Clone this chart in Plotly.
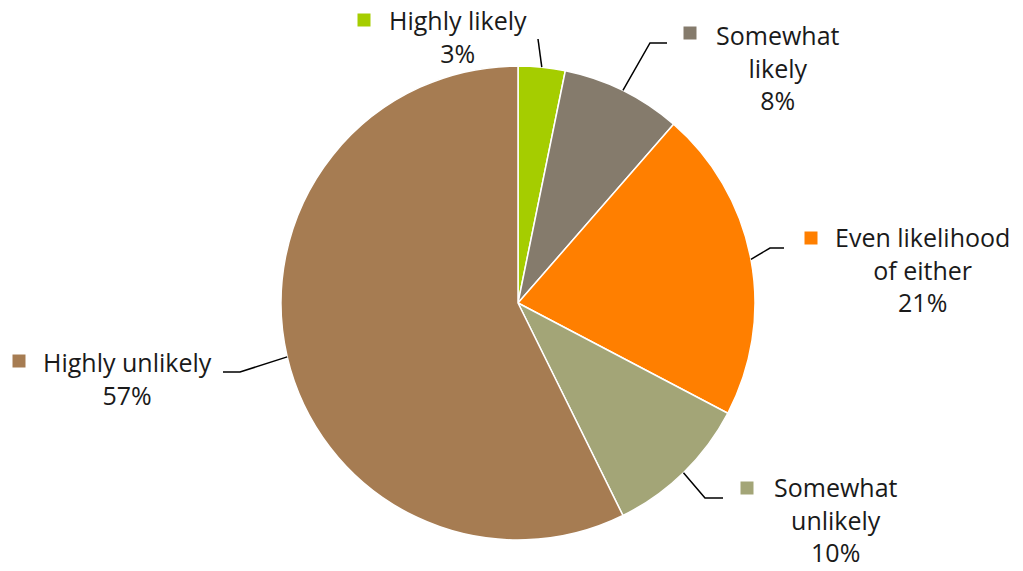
import math
import plotly.graph_objects as go

# Survey answers and their shares
categories = ["Highly likely", "Somewhat likely", "Even likelihood of either",
              "Somewhat unlikely", "Highly unlikely"]
values = [3.2, 8.2, 21.3, 10.0, 57.3]
colors = ["#A5CD00", "#857B6C", "#FF7F00", "#A3A577", "#A67C52"]

# Label text broken into display lines (percent line added from the values)
label_lines = [
    ["Highly likely"],
    ["Somewhat", "likely"],
    ["Even likelihood", "of either"],
    ["Somewhat", "unlikely"],
    ["Highly unlikely"],
]

W, H = 1023, 571
CX, CY, R = 518, 303, 237
FONT = "Open Sans"
FSIZE = 25

# Label placement (pixels): text block centre, key square centre, leader elbow/end
label_layout = [
    dict(tx=458, ty=36, sq=(364, 20), path=[(538, 39)]),
    dict(tx=778, ty=67, sq=(690, 33), path=[(650, 43), (667, 43)]),
    dict(tx=922, ty=270, sq=(811, 238), path=[(770, 248), (784, 248)]),
    dict(tx=836, ty=519, sq=(747, 488), path=[(705, 498), (723, 498)]),
    dict(tx=127, ty=378, sq=(19, 361), path=[(240, 372), (223, 372)]),
]


def px(x):
    return x / W


def py(y):
    return 1 - y / H


fig = go.Figure(go.Pie(
    labels=categories,
    values=values,
    sort=False,
    direction="clockwise",
    rotation=0,
    marker=dict(colors=colors, line=dict(color="white", width=1.5)),
    textinfo="none",
    hoverinfo="label+percent",
    domain=dict(x=[(CX - R) / W, (CX + R) / W], y=[(H - CY - R) / H, (H - CY + R) / H]),
    showlegend=False,
))

total = sum(values)
annotations = []
shapes = []
cum = 0.0
for cat, v, col, lines, lay in zip(categories, values, colors, label_lines, label_layout):
    mid = (cum + v / 2) / total * 2 * math.pi
    cum += v
    sx = CX + R * math.sin(mid)
    sy = CY - R * math.cos(mid)
    pts = [(sx, sy)] + lay["path"]
    d = "M " + " L ".join(f"{px(x)},{py(y)}" for x, y in pts)
    shapes.append(dict(type="path", path=d, xref="paper", yref="paper",
                       line=dict(color="black", width=1.5)))
    pct = round(v / total * 100)
    annotations.append(dict(
        text="<br>".join(lines + [f"{pct}%"]),
        x=px(lay["tx"]), y=py(lay["ty"]), xref="paper", yref="paper",
        xanchor="center", yanchor="middle", showarrow=False, align="center",
        borderpad=0,
        font=dict(family=FONT, size=FSIZE, color="#1a1a1a"),
    ))
    qx, qy = lay["sq"]
    shapes.append(dict(type="rect", xref="paper", yref="paper",
                       x0=px(qx - 6.5), x1=px(qx + 6.5), y0=py(qy + 6.5), y1=py(qy - 6.5),
                       fillcolor=col, line=dict(width=0)))

fig.update_layout(
    width=W, height=H,
    margin=dict(l=0, r=0, t=0, b=0),
    paper_bgcolor="white",
    plot_bgcolor="white",
    annotations=annotations,
    shapes=shapes,
)

fig.write_html("out.html")
